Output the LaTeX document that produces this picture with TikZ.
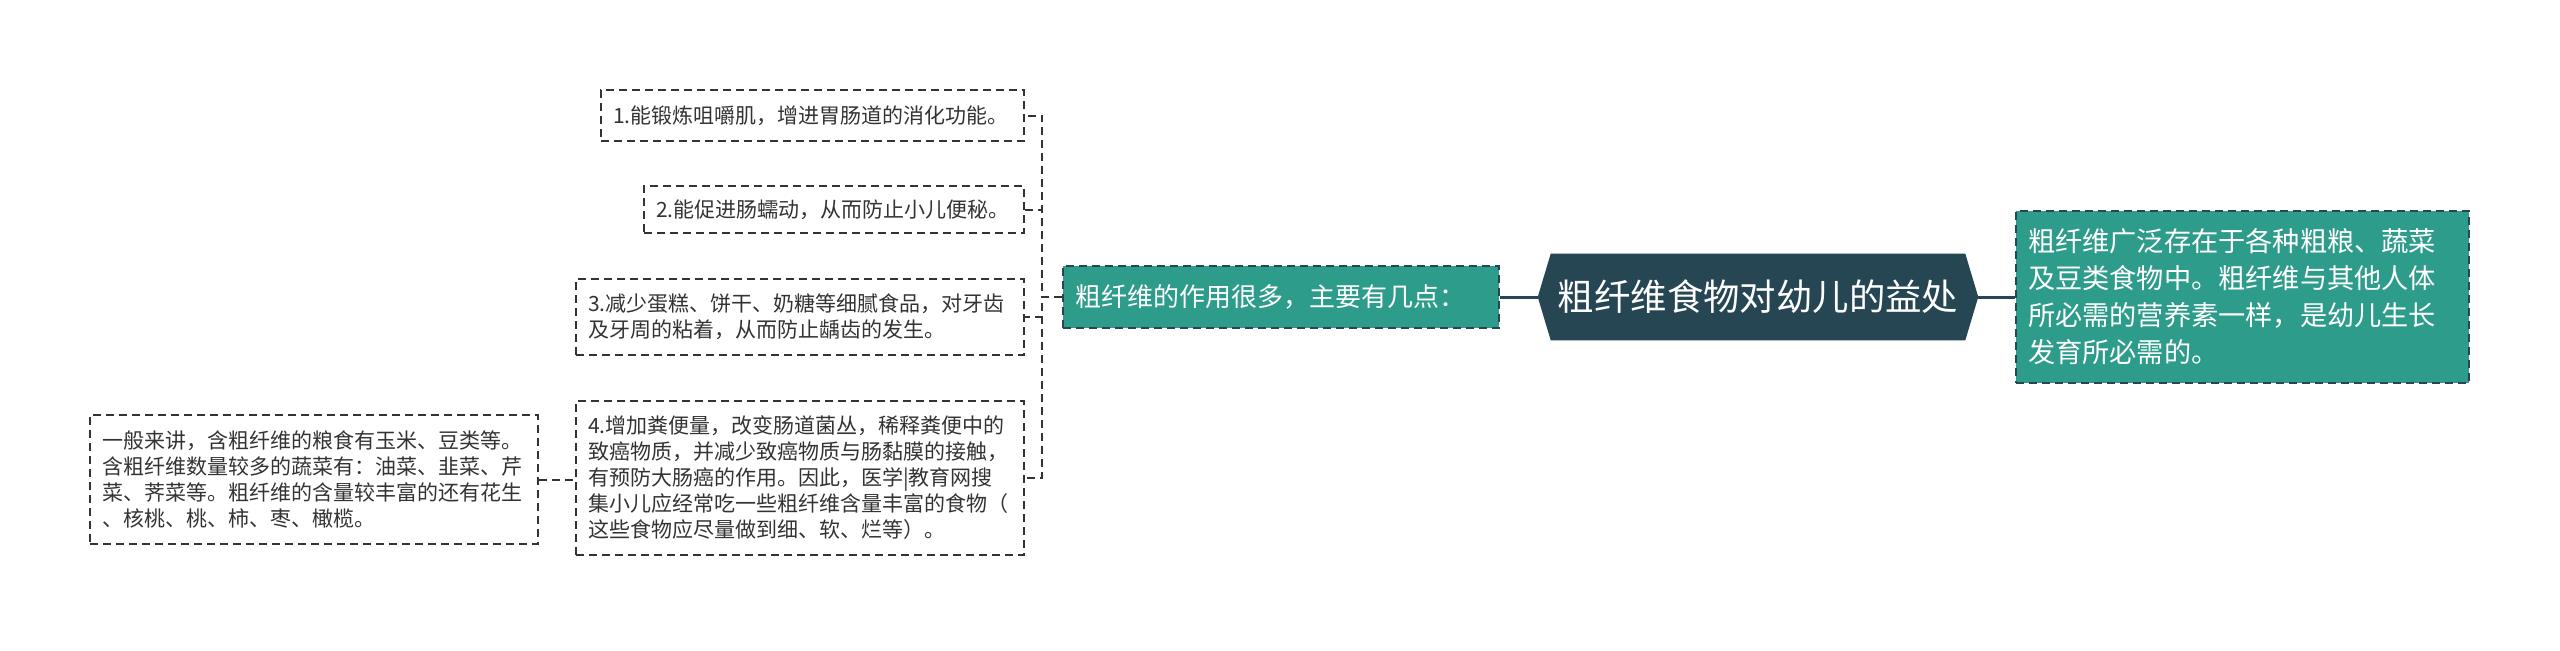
\documentclass[tikz,border=0pt]{standalone}
\usepackage{fontspec}
\setmainfont{Noto Sans CJK SC}
\usetikzlibrary{backgrounds}
\definecolor{tealfill}{HTML}{2E9C8A}
\definecolor{rootfill}{HTML}{264653}
\definecolor{inkgray}{HTML}{333333}
\tikzset{
  note/.style={draw=inkgray, line width=1pt, dash pattern=on 4pt off 2.5pt,
    text=inkgray, align=left, inner xsep=6pt, inner ysep=3pt,
    font=\fontsize{10.5}{13}\selectfont},
  tealnote/.style={fill=tealfill, draw=rootfill, line width=1pt,
    dash pattern=on 4pt off 2.5pt, text=white, align=left, inner xsep=6pt},
  link/.style={draw=inkgray, line width=1pt, dash pattern=on 4pt off 2.5pt},
  rootlink/.style={draw=rootfill, line width=1.5pt},
}
\begin{document}
\begin{tikzpicture}[x=0.5pt,y=-0.5pt]
\useasboundingbox (0,0) rectangle (2560,650);
% centre
\node[text=white, minimum width=206pt, minimum height=43pt,
  font=\fontsize{18.2}{22}\selectfont] (root) at (1758,297) {粗纤维食物对幼儿的益处};
\node[tealnote, text width=206pt, minimum height=31pt,
  font=\fontsize{13}{16}\selectfont] (mid) at (1281,297) {粗纤维的作用很多，主要有几点：};
\node[tealnote, text width=214.5pt, minimum height=86pt,
  font=\fontsize{13.6}{18.5}\selectfont] (right) at (2242.5,297)
  {粗纤维广泛存在于各种粗粮、蔬菜\\及豆类食物中。粗纤维与其他人体\\所必需的营养素一样，是幼儿生长\\发育所必需的。};
% points
\node[note, text width=199.5pt, minimum height=25.5pt] (p1) at (812.5,115.5) {1.能锻炼咀嚼肌，增进胃肠道的消化功能。};
\node[note, text width=178pt, minimum height=23.5pt] (p2) at (834,209.5) {2.能促进肠蠕动，从而防止小儿便秘。};
\node[note, text width=212pt, minimum height=38pt] (p3) at (800,317)
  {3.减少蛋糕、饼干、奶糖等细腻食品，对牙齿\\及牙周的粘着，从而防止龋齿的发生。};
\node[note, text width=212pt, minimum height=77pt] (p4) at (800,478)
  {4.增加粪便量，改变肠道菌丛，稀释粪便中的\\致癌物质，并减少致癌物质与肠黏膜的接触，\\有预防大肠癌的作用。因此，医学|教育网搜\\集小儿应经常吃一些粗纤维含量丰富的食物（\\这些食物应尽量做到细、软、烂等）。};
\node[note, text width=212pt, minimum height=64.5pt] (food) at (314,479.5)
  {一般来讲，含粗纤维的粮食有玉米、豆类等。\\含粗纤维数量较多的蔬菜有：油菜、韭菜、芹\\菜、荠菜等。粗纤维的含量较丰富的还有花生\\、核桃、桃、柿、枣、橄榄。};
\begin{scope}[on background layer]
  \draw[rootlink] ([xshift=-6.5pt]root.west) -- (mid.east);
  \draw[rootlink] ([xshift=6.5pt]root.east) -- (right.west);
  \fill[rootfill] (root.north west) -- (root.north east) -- ([xshift=6.5pt]root.east)
    -- (root.south east) -- (root.south west) -- ([xshift=-6.5pt]root.west) -- cycle;
  \draw[link] (mid.west) -- ++(-10pt,0) |- (p1.east);
  \draw[link] (mid.west) -- ++(-10pt,0) |- (p2.east);
  \draw[link] (mid.west) -- ++(-10pt,0) |- (p3.east);
  \draw[link] (mid.west) -- ++(-10pt,0) |- (p4.east);
  \draw[link] (food.east) -- (food.east -| p4.west);
\end{scope}
\end{tikzpicture}
\end{document}
